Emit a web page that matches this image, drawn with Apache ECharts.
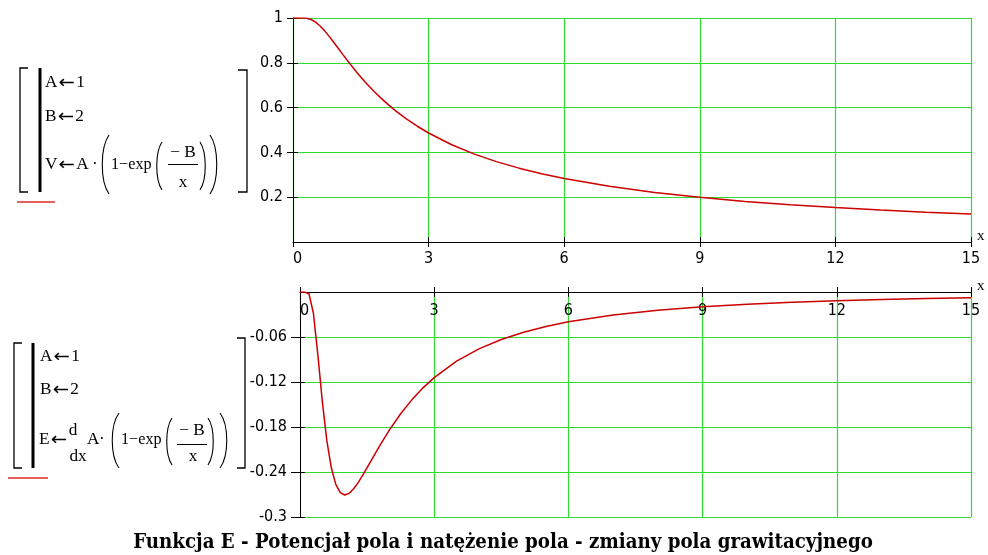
<!DOCTYPE html>
<html>
<head>
<meta charset="utf-8">
<script src="https://cdn.jsdelivr.net/npm/echarts@6/dist/echarts.min.js"></script>
<style>
html,body{margin:0;padding:0;background:#fff;}
#c{width:988px;height:555px;}
</style>
</head>
<body>
<div id="c"></div>
<script>
// ---- data ----
const xs = [0,0.1,0.2,0.3,0.4,0.5,0.6,0.7,0.8,0.9,1.0,1.1,1.2,1.3,1.4,1.5,1.6,1.7,1.8,2.0,2.25,2.5,2.75,3,3.5,4,4.5,5,5.5,6,7,8,9,10,11,12,13,14,15];
const potentialV = [1.0,1.0,0.9999,0.9987,0.9933,0.9817,0.9643,0.9426,0.9179,0.8916,0.8647,0.8377,0.8111,0.7853,0.7603,0.7364,0.7135,0.6916,0.6708,0.6321,0.5889,0.5507,0.5168,0.4866,0.4353,0.3935,0.3588,0.3297,0.3049,0.2835,0.2485,0.2212,0.1993,0.1813,0.1662,0.1535,0.1426,0.1331,0.1248];
const fieldE = [0,0,-0.0023,-0.0283,-0.0842,-0.1465,-0.1982,-0.2344,-0.2565,-0.2676,-0.2707,-0.2684,-0.2623,-0.2541,-0.2445,-0.2343,-0.2238,-0.2134,-0.2032,-0.1839,-0.1624,-0.1438,-0.1278,-0.1141,-0.0922,-0.0758,-0.0633,-0.0536,-0.0460,-0.0398,-0.0307,-0.0243,-0.0198,-0.0164,-0.0138,-0.0118,-0.0101,-0.0088,-0.0078];
const xTicks = [0,3,6,9,12,15];
const vTicks = [0,0.2,0.4,0.6,0.8,1];
const eTicks = [-0.3,-0.24,-0.18,-0.12,-0.06,0];
const titleText = 'Funkcja E - Potencjał pola i natężenie pola - zmiany pola grawitacyjnego';

// ---- styling ----
const GREEN = '#2fdc2f';
const RED = '#cc0000';
const TICKFONT = "'Liberation Sans Narrow','DejaVu Sans Condensed','Liberation Sans',sans-serif";
const SERIF = "'Liberation Serif','Times New Roman',serif";
const step = a => a[1] - a[0];

function axisPair(grid, ticks, opts) {
  const base = {
    type: 'value', gridIndex: grid,
    min: ticks[0], max: ticks[ticks.length - 1], interval: +(step(ticks)).toFixed(4),
    position: opts.position,
    axisLine: {show: true, onZero: false, lineStyle: {color: '#000', width: 1}},
  };
  const main = Object.assign({}, base, {
    axisTick: {show: true, inside: false, length: opts.outLen, lineStyle: {color: '#000'}},
    axisLabel: Object.assign({
      show: true, color: '#000', fontFamily: TICKFONT, fontSize: 16,
      formatter: v => String(+(+v).toFixed(2))
    }, opts.label),
    splitLine: {show: true, lineStyle: {color: GREEN, width: 1.2}},
    name: opts.name || '', nameLocation: 'end', nameGap: 6,
    nameTextStyle: {fontFamily: SERIF, fontSize: 15, color: '#000', verticalAlign: 'bottom', align: 'left', padding: [0,0,-2,0]}
  });
  const inner = Object.assign({}, base, {
    axisLine: {show: false},
    axisTick: {show: true, inside: true, length: 5, lineStyle: {color: '#000'}},
    axisLabel: {show: false},
    splitLine: {show: false}
  });
  return [main, inner];
}

const xTop = axisPair(0, xTicks, {position: 'bottom', outLen: 5, name: 'x',
  label: {margin: 9, alignMinLabel: 'left'}});
const yTop = axisPair(0, vTicks, {position: 'left', outLen: 6,
  label: {margin: 10, showMinLabel: false}});
const xBot = axisPair(1, xTicks, {position: 'top', outLen: 5, name: 'x',
  label: {margin: 11, inside: true, alignMinLabel: 'left', verticalAlign: 'top'}});
const yBot = axisPair(1, eTicks, {position: 'left', outLen: 9,
  label: {margin: 13, showMaxLabel: false}});

// ---- formula graphics ----
const RICH = {
  a: {font: "15px " + SERIF, fill: '#000'},
  r: {font: "17px 'DejaVu Sans', sans-serif", fill: '#000', padding: [0, 1, 0, 1]}
};
function txt(x, y, s, align, sx) {
  return {type: 'text', x: x, y: y, silent: true, scaleX: sx || 1.15, scaleY: 1.05,
    style: {text: s, rich: RICH, font: "15px " + SERIF, fill: '#000', textAlign: align || 'left', textVerticalAlign: 'middle'}};
}
function arrowTxt(x, y, lhs, rhs) {
  return txt(x, y, '{a|' + lhs + '}{r|←}' + (rhs ? '{a|' + rhs + '}' : ''));
}
function poly(pts, w) {
  return {type: 'polyline', silent: true, shape: {points: pts}, style: {stroke: '#000', lineWidth: w || 1.3, fill: null}};
}
function paren(x0, x1, y0, y1, left) {
  const h = y1 - y0;
  const xs0 = left ? x1 : x0, xc = left ? x0 : x1;
  return {type: 'bezierCurve', silent: true,
    shape: {x1: xs0, y1: y0, x2: xs0, y2: y1, cpx1: xc, cpy1: y0 + h * 0.22, cpx2: xc, cpy2: y1 - h * 0.22},
    style: {stroke: '#000', lineWidth: 1.1, fill: null}};
}
function hline(x0, x1, y, color, w) {
  return {type: 'line', silent: true, shape: {x1: x0, y1: y, x2: x1, y2: y}, style: {stroke: color || '#000', lineWidth: w || 1}};
}

const graphics = [
  // top formula
  poly([[28,68],[20,68],[20,192],[28,192]]),
  {type: 'rect', silent: true, shape: {x: 38.5, y: 68, width: 3, height: 124}, style: {fill: '#000'}},
  arrowTxt(45, 83, 'A', '1'),
  arrowTxt(45, 117, 'B', '2'),
  arrowTxt(45, 165, 'V', 'A'),
  txt(92, 165, '·'),
  paren(100, 109, 135, 194, true),
  txt(111, 165, '1−exp', 'left', 1.08),
  paren(155, 162, 142, 190, true),
  txt(183, 153, '− B', 'center'),
  hline(168, 198, 164.5),
  txt(183, 183, 'x', 'center'),
  paren(200, 207, 142, 190, false),
  paren(210, 219, 135, 194, false),
  poly([[238,70],[247,70],[247,192],[238,192]]),
  hline(17, 55, 202, '#dd2a2a', 1.5),
  // bottom formula
  poly([[22,343],[14,343],[14,468],[22,468]]),
  {type: 'rect', silent: true, shape: {x: 31.5, y: 343, width: 3, height: 125}, style: {fill: '#000'}},
  arrowTxt(40, 357, 'A', '1'),
  arrowTxt(40, 390, 'B', '2'),
  arrowTxt(39, 440, 'E', ''),
  txt(73, 431, 'd', 'center'),
  txt(78, 457, 'dx', 'center'),
  txt(87, 440, 'A'),
  txt(99, 440, '·'),
  paren(110, 119, 413, 468, true),
  txt(121, 440, '1−exp', 'left', 1.08),
  paren(165, 172, 418, 465, true),
  txt(192, 431, '− B', 'center'),
  hline(177, 207, 444.5),
  txt(193, 457, 'x', 'center'),
  paren(208, 215, 418, 465, false),
  paren(220, 229, 413, 468, false),
  poly([[237,338],[245,338],[245,468],[237,468]]),
  hline(8, 48, 478, '#dd2a2a', 1.5),
  // title
  {type: 'text', x: 503, y: 543, scaleX: 1.14, scaleY: 1.25, silent: true,
    style: {text: titleText, font: "bold 16px 'DejaVu Serif', serif", fill: '#000', textAlign: 'center', textVerticalAlign: 'middle'}}
];

const chart = echarts.init(document.getElementById('c'), null, {renderer: 'canvas'});
chart.setOption({
  animation: false,
  backgroundColor: '#fff',
  grid: [
    {left: 293, top: 18, width: 678, height: 224},
    {left: 300, top: 292, width: 671, height: 225}
  ],
  xAxis: [xTop[0], xTop[1], xBot[0], xBot[1]],
  yAxis: [yTop[0], yTop[1], yBot[0], yBot[1]],
  series: [
    {type: 'line', xAxisIndex: 0, yAxisIndex: 0, data: xs.map((x, i) => [x, potentialV[i]]),
      showSymbol: false, smooth: false, lineStyle: {color: RED, width: 1.5}, z: 3},
    {type: 'line', xAxisIndex: 2, yAxisIndex: 2, data: xs.map((x, i) => [x, fieldE[i]]),
      showSymbol: false, smooth: false, lineStyle: {color: RED, width: 1.5}, z: 3}
  ],
  graphic: graphics
});
</script>
</body>
</html>
